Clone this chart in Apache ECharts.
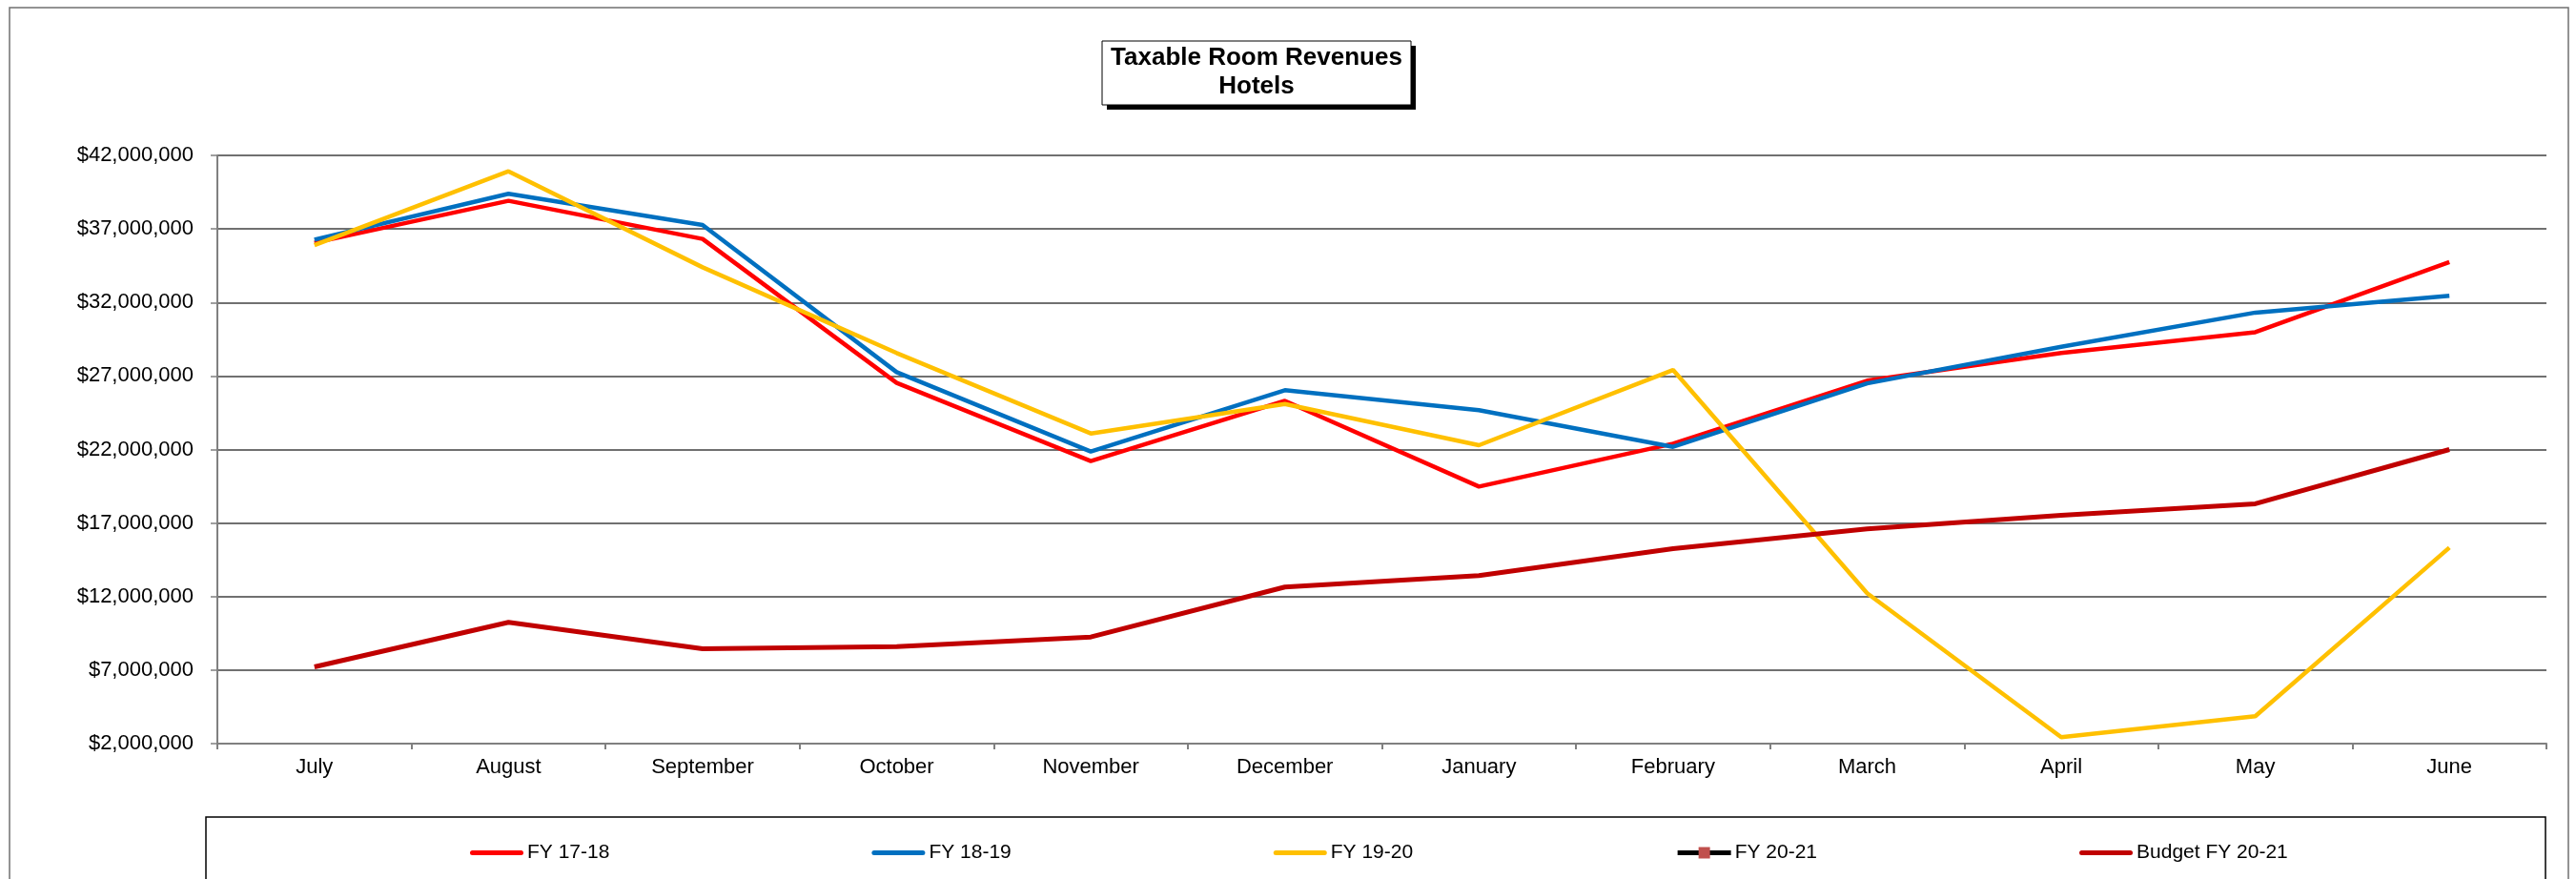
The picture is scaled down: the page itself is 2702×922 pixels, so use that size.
<!DOCTYPE html>
<html>
<head>
<meta charset="utf-8">
<script src="https://cdn.jsdelivr.net/npm/echarts@6/dist/echarts.min.js"></script>
<style>
html, body { margin: 0; padding: 0; background: #fff; }
#main { width: 2702px; height: 922px; }
</style>
</head>
<body>
<div id="main"></div>
<script>
var months = ['July', 'August', 'September', 'October', 'November', 'December',
	'January', 'February', 'March', 'April', 'May', 'June'];

var fy1718 = [36060000, 38910000, 36320000, 26530000, 21210000, 25310000,
	19480000, 22400000, 26680000, 28560000, 29980000, 34740000];
var fy1819 = [36270000, 39390000, 37270000, 27260000, 21860000, 26030000,
	24670000, 22180000, 26500000, 28990000, 31310000, 32450000];
var fy1920 = [35900000, 40920000, 34390000, 28560000, 23090000, 25100000,
	22290000, 27410000, 12230000, 2440000, 3860000, 15330000];
var fy2021 = [];
var budget2021 = [7220000, 10250000, 8450000, 8600000, 9250000, 12650000,
	13430000, 15260000, 16600000, 17530000, 18310000, 22000000];

var titleLines = ['Taxable Room Revenues', 'Hotels'];

var myChart = echarts.init(document.getElementById('main'));

function money(v) {
	return '$' + Math.round(v).toLocaleString('en-US');
}

// plain rounded bar used as legend icon for the series without markers
var barIcon = 'path://M2.5,0 H53.5 A2.5,2.5 0 0 1 53.5,5 H2.5 A2.5,2.5 0 0 1 2.5,0 Z';

option = {
	animation: false,
	textStyle: {
		fontFamily: 'Liberation Sans'
	},
	graphic: [
		// outer chart frame
		{
			type: 'rect',
			shape: { x: 10, y: 8, width: 2684, height: 930 },
			style: { fill: 'none', stroke: '#707070', lineWidth: 1.5 },
			silent: true
		},
		// legend frame
		{
			type: 'rect',
			shape: { x: 216, y: 857, width: 2454, height: 80 },
			style: { fill: 'none', stroke: '#000', lineWidth: 1.5 },
			silent: true
		},
		// title box with shadow
		{
			type: 'rect',
			shape: { x: 1161, y: 48, width: 324, height: 67 },
			style: { fill: '#000' },
			silent: true
		},
		{
			type: 'rect',
			shape: { x: 1156, y: 43, width: 324, height: 67 },
			style: { fill: '#fff', stroke: '#000', lineWidth: 1 },
			silent: true
		},
		{
			type: 'text',
			x: 1318,
			y: 76,
			style: {
				text: titleLines.join('\n'),
				fontFamily: 'Liberation Sans',
				fontWeight: 'bold',
				fontSize: 26,
				lineHeight: 30,
				fill: '#000',
				align: 'center',
				verticalAlign: 'middle'
			},
			silent: true
		}
	],
	legend: {
		left: 488,
		top: 879,
		itemGap: 275,
		itemWidth: 56,
		itemHeight: 15,
		lineStyle: { width: 5 },
		textStyle: {
			fontSize: 21,
			color: '#000',
			fontFamily: 'Liberation Sans',
			padding: [0, 0, 0, -1]
		},
		data: [
			{ name: 'FY 17-18', icon: barIcon },
			{ name: 'FY 18-19', icon: barIcon },
			{ name: 'FY 19-20', icon: barIcon },
			{ name: 'FY 20-21' },
			{ name: 'Budget FY 20-21', icon: barIcon }
		]
	},
	grid: {
		left: 228,
		right: 31,
		top: 163,
		bottom: 142,
		containLabel: false
	},
	xAxis: {
		type: 'category',
		data: months,
		boundaryGap: true,
		axisLine: { lineStyle: { color: '#808080', width: 2 } },
		axisTick: { show: true, length: 6, lineStyle: { color: '#808080', width: 2 } },
		axisLabel: { fontSize: 22, color: '#000', margin: 14 }
	},
	yAxis: {
		type: 'value',
		min: 2000000,
		max: 42000000,
		interval: 5000000,
		axisLine: { show: true, lineStyle: { color: '#808080', width: 2 } },
		axisTick: { show: true, length: 7, lineStyle: { color: '#808080', width: 1.5 } },
		axisLabel: {
			fontSize: 22,
			color: '#000',
			margin: 25,
			formatter: money
		},
		splitLine: { lineStyle: { color: '#404040', width: 1.5 } }
	},
	series: [
		{
			name: 'FY 17-18',
			type: 'line',
			data: fy1718,
			symbol: 'none',
			color: '#FF0000',
			lineStyle: { width: 4.5 }
		},
		{
			name: 'FY 18-19',
			type: 'line',
			data: fy1819,
			symbol: 'none',
			color: '#0070C0',
			lineStyle: { width: 4.5 }
		},
		{
			name: 'FY 19-20',
			type: 'line',
			data: fy1920,
			symbol: 'none',
			color: '#FFC000',
			lineStyle: { width: 4.5 }
		},
		{
			name: 'FY 20-21',
			type: 'line',
			data: fy2021,
			symbol: 'rect',
			symbolSize: 12,
			itemStyle: { color: '#C0504D' },
			lineStyle: { color: '#000', width: 5 }
		},
		{
			name: 'Budget FY 20-21',
			type: 'line',
			data: budget2021,
			symbol: 'none',
			color: '#C00000',
			lineStyle: { width: 5 }
		}
	]
};

myChart.setOption(option);
</script>
</body>
</html>
